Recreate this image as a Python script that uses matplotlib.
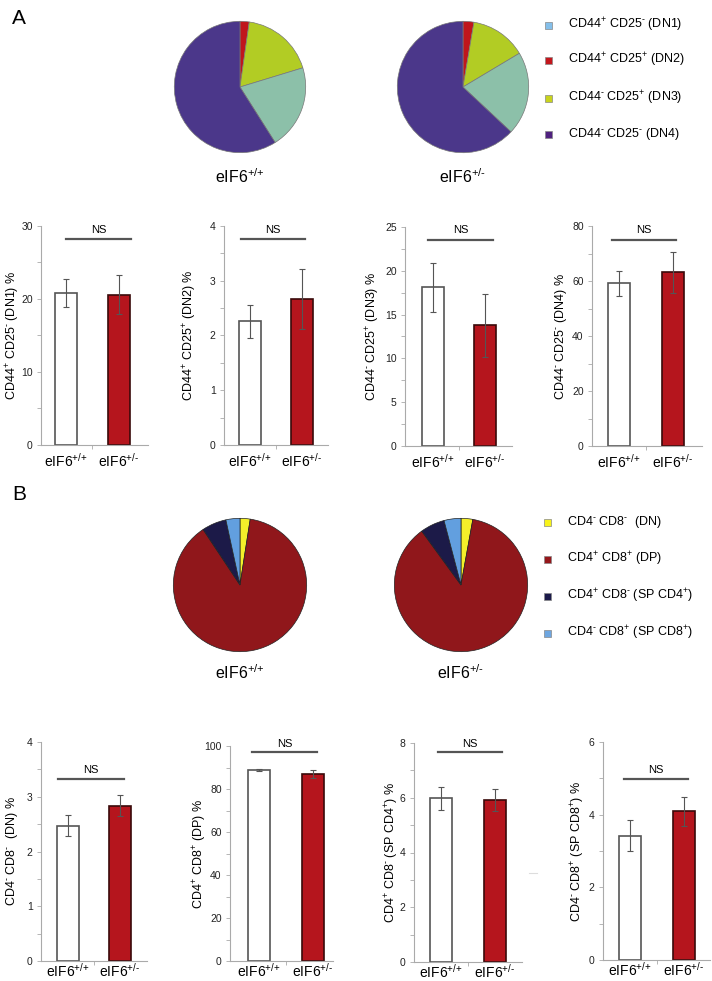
import matplotlib
matplotlib.use("Agg")
import matplotlib.pyplot as plt
from matplotlib.patches import Rectangle
from matplotlib.lines import Line2D
import matplotlib.transforms as mtransforms

plt.rcParams['font.family'] = ['Liberation Sans', 'DejaVu Sans']
plt.rcParams['mathtext.fontset'] = 'custom'
plt.rcParams['mathtext.rm'] = 'Liberation Sans'
plt.rcParams['mathtext.default'] = 'regular'

P = '$^{+}$'
M = '$^{\u2010}$'

# ---- data ----
groups = ['eIF6$^{{+}/{+}}$', 'eIF6$^{{+}/{\u2010}}$']

dn_labels = ['CD44' + P + ' CD25' + M + ' (DN1)', 'CD44' + P + ' CD25' + P + ' (DN2)',
             'CD44' + M + ' CD25' + P + ' (DN3)', 'CD44' + M + ' CD25' + M + ' (DN4)']
dn_ylabels = [s + ' %' for s in dn_labels]
dn_wt = [20.8, 2.26, 18.1, 59.2]
dn_wt_err = [1.9, 0.3, 2.8, 4.5]
dn_het = [20.6, 2.67, 13.8, 63.2]
dn_het_err = [2.7, 0.55, 3.6, 7.5]

sp_labels = ['CD4' + M + ' CD8' + M + '  (DN)', 'CD4' + P + ' CD8' + P + ' (DP)',
             'CD4' + P + ' CD8' + M + ' (SP CD4' + P + ')',
             'CD4' + M + ' CD8' + P + ' (SP CD8' + P + ')']
sp_ylabels = ['CD4' + M + ' CD8' + M + '  (DN) %', 'CD4' + P + ' CD8' + P + ' (DP) %',
              'CD4' + P + ' CD8' + M + ' (SP CD4' + P + ') %',
              'CD4' + M + ' CD8' + P + ' (SP CD8' + P + ') %']
sp_wt = [2.47, 88.8, 5.98, 3.42]
sp_wt_err = [0.19, 0.4, 0.43, 0.43]
sp_het = [2.84, 87.0, 5.92, 4.09]
sp_het_err = [0.2, 2.0, 0.39, 0.4]

dn_ymax = [30, 4, 25, 80]
dn_ystep = [10, 1, 5, 20]
sp_ymax = [4, 100, 8, 6]
sp_ystep = [1, 20, 2, 2]

# colours
dn_pie_colors = ['#8cc0a9', '#c0161c', '#b2cc24', '#4b378a']
dn_leg_colors = ['#84bfea', '#c4161c', '#c8d31c', '#4f217f']
dn_pie_order = [1, 2, 0, 3]  # clockwise from 12 o'clock
sp_pie_colors = ['#f4ef2a', '#90171b', '#1c1a48', '#629fdf']
sp_leg_colors = ['#f7f31a', '#95161a', '#1b1a4a', '#6ea6e0']
bar_colors = ['white', '#b5151d']
bar_edges = ['#555555', '#3a0a0a']

W, H = 712, 981
fig = plt.figure(figsize=(W / 100, H / 100), dpi=100)


def box(x0, y0, x1, y1):
    return [x0 / W, 1 - y1 / H, (x1 - x0) / W, (y1 - y0) / H]


def pie(cx, cy, r, values, colors, order, label, label_y, edge):
    ax = fig.add_axes(box(cx - r, cy - r, cx + r, cy + r))
    ax.pie([values[i] for i in order], colors=[colors[i] for i in order],
           startangle=90, counterclock=False, radius=1,
           wedgeprops=dict(edgecolor=edge, linewidth=0.5))
    ax.set_xlim(-1.02, 1.02)
    ax.set_ylim(-1.02, 1.02)
    fig.text(cx / W, 1 - label_y / H, label, fontsize=11.5, ha='center', va='center')


def legend(x, ys, labels, colors):
    for y, lab, c in zip(ys, labels, colors):
        fig.add_artist(Rectangle(((x - 3.5) / W, 1 - (y + 3.5) / H), 7 / W, 7 / H,
                                 facecolor=c, edgecolor='#888888', linewidth=0.5,
                                 transform=fig.transFigure))
        fig.text((x + 20) / W, 1 - y / H, lab, fontsize=9, va='center', ha='left')


def bar_panel(lay, wt, wt_e, het, het_e, ymax, step, ylabel, xpad):
    axl, axr, top, bot, c1, c2, ylx, ns_y, ns_x0, ns_x1, ns_ty = lay
    ax = fig.add_axes(box(axl, top, axr, bot))
    d = c2 - c1
    ax.bar([0, 1], [wt, het], width=22 / d, color=bar_colors, edgecolor=bar_edges,
           linewidth=1.2, zorder=2)
    ax.errorbar([0, 1], [wt, het], yerr=[wt_e, het_e], fmt='none', ecolor='#555555',
                elinewidth=0.8, capsize=2.2, capthick=0.8, zorder=3)
    ax.set_xlim((axl - c1) / d, 1 + (axr - c2) / d)
    ax.set_ylim(0, ymax)
    for s in ['top', 'right']:
        ax.spines[s].set_visible(False)
    for s in ['left', 'bottom']:
        ax.spines[s].set_color('#aaaaaa')
        ax.spines[s].set_linewidth(0.8)
    ax.set_yticks([i * step for i in range(int(ymax / step) + 1)])
    ax.set_yticks([i * step + step / 2 for i in range(int(ymax / step))], minor=True)
    ax.tick_params(axis='y', which='both', direction='out', length=3, width=0.6,
                   color='#aaaaaa', labelsize=7.5, pad=3, labelcolor='#222222')
    ax.set_xticks([0, 1])
    ax.set_xticklabels(groups, fontsize=10)
    ax.set_xticks([0.5], minor=True)
    ax.tick_params(axis='x', which='major', length=0, pad=xpad)
    ax.tick_params(axis='x', which='minor', length=3, width=0.6, color='#aaaaaa')
    ax.patch.set_alpha(0)
    fig.text(ylx / W, 1 - (top + bot) / 2 / H, ylabel, rotation=90, fontsize=9,
             ha='left', va='center')
    frac = lambda y: (bot - y) / (bot - top)
    tr = mtransforms.blended_transform_factory(fig.transFigure, ax.transAxes)
    ax.add_line(Line2D([ns_x0 / W, ns_x1 / W], [frac(ns_y)] * 2, transform=tr,
                       color='#555555', linewidth=1.6, clip_on=False))
    ax.text((ns_x0 + ns_x1) / 2 / W, frac(ns_ty), 'NS', transform=tr, fontsize=8,
            ha='center', va='center')


# panel letters
fig.text(12 / W, 1 - 18 / H, 'A', fontsize=15, ha='left', va='center')
fig.text(12 / W, 1 - 495 / H, 'B', fontsize=15, ha='left', va='center')

# pies
pie(240, 87, 67, dn_wt, dn_pie_colors, dn_pie_order, groups[0], 177, '#777777')
pie(463, 87, 67, dn_het, dn_pie_colors, dn_pie_order, groups[1], 177, '#777777')
pie(240, 585, 68, sp_wt, sp_pie_colors, [0, 1, 2, 3], groups[0], 673, '#222222')
pie(461, 585, 68, sp_het, sp_pie_colors, [0, 1, 2, 3], groups[1], 673, '#222222')

legend(548, [25, 60, 98, 134], dn_labels, dn_leg_colors)
legend(547, [522, 559, 596, 633], sp_labels, sp_leg_colors)

# bar panel layout in pixels:
# axis left, right, top, bottom, bar centre 1, 2, ylabel x, NS line y, x0, x1, NS text y
dn_layout = [
    (41, 148, 226, 445, 66, 118.5, 4, 239, 66, 131, 230),
    (224, 328, 226, 445, 249.5, 301.5, 181, 239, 241, 305, 230),
    (405, 512, 227, 446, 432.5, 485, 364, 240, 428, 493, 230),
    (592, 702, 226, 446, 619, 672.5, 553, 240, 612, 676, 230),
]
sp_layout = [
    (41, 147, 742, 961, 68, 120, 4, 779, 58, 124, 770),
    (230, 333, 746, 961, 259, 313, 191, 752, 252, 317, 744),
    (414, 522, 743, 962, 441, 495, 383, 752, 438, 502, 744),
    (603, 710, 742, 960, 630, 684, 569, 779, 624, 688, 770),
]

for i in range(4):
    bar_panel(dn_layout[i], dn_wt[i], dn_wt_err[i], dn_het[i], dn_het_err[i],
              dn_ymax[i], dn_ystep[i], dn_ylabels[i], 5)
    bar_panel(sp_layout[i], sp_wt[i], sp_wt_err[i], sp_het[i], sp_het_err[i],
              sp_ymax[i], sp_ystep[i], sp_ylabels[i], 0.5)

# small stray dash in the original figure
fig.add_artist(Line2D([529 / W, 537 / W], [1 - 873 / H] * 2, color='#dddddd',
                      linewidth=0.8, transform=fig.transFigure))

fig.savefig('out.png', dpi=100, facecolor='white')
